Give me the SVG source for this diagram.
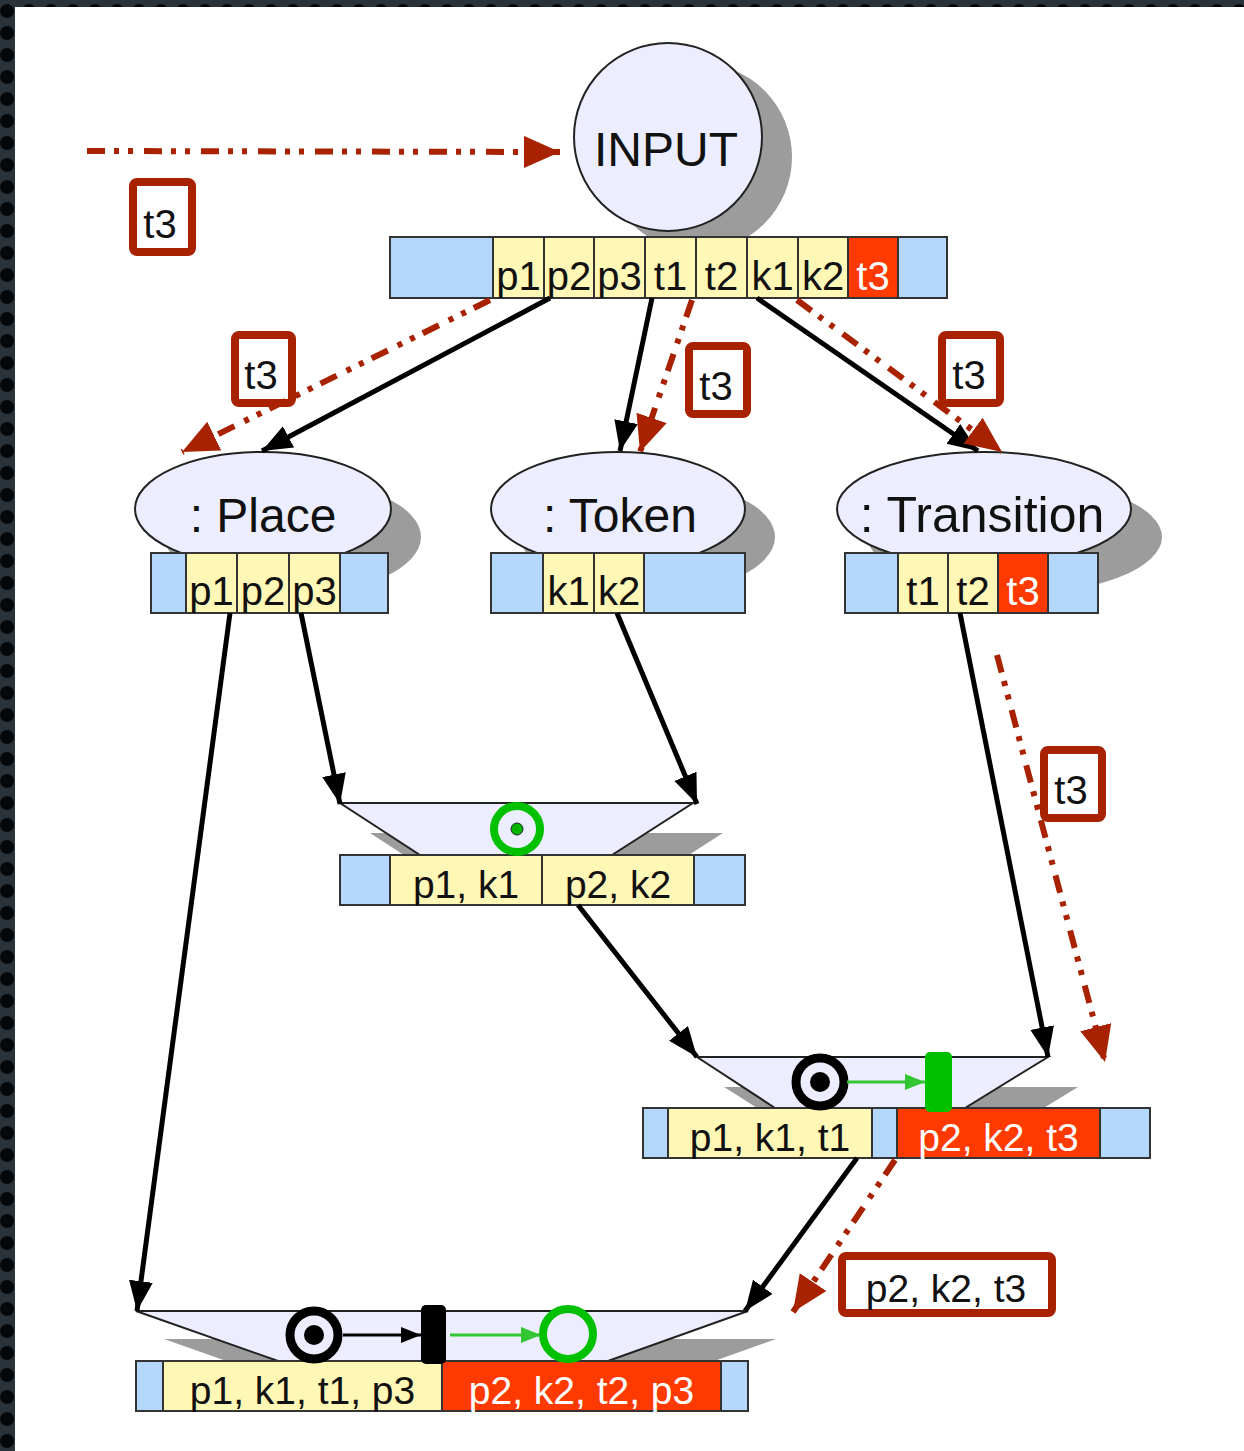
<svg xmlns="http://www.w3.org/2000/svg" width="1244" height="1451" viewBox="0 0 1244 1451">
<style>
text{font-family:"Liberation Sans",Arial,sans-serif;fill:#111;text-anchor:middle}
.big{font-size:48px}
.cell{font-size:40px}
.wt{fill:#fff}
.blue{fill:#b3d8fb;stroke:#333;stroke-width:2}
.yel{fill:#fff7b5;stroke:#333;stroke-width:2}
.red{fill:#ff3a00;stroke:#333;stroke-width:2}
.ell{fill:#eceeff;stroke:#222;stroke-width:2}
.shadow{fill:#9c9c9c}
.trap{fill:#eceeff;stroke:#222;stroke-width:2}
.lbl{fill:#fff;stroke:#a82200;stroke-width:8}
.blk{fill:none;stroke:#000;stroke-width:5;marker-end:url(#ah)}
.rd{fill:none;stroke:#a82200;stroke-width:6;stroke-dasharray:18 9 5 9 5 11;marker-end:url(#rh)}
</style>
<defs>
<marker id="ah" markerUnits="userSpaceOnUse" markerWidth="32" markerHeight="26" refX="30" refY="12" orient="auto"><path d="M0,0 L30,12 L0,24 z" fill="#000"/></marker>
<marker id="rh" markerUnits="userSpaceOnUse" markerWidth="38" markerHeight="34" refX="36" refY="16" orient="auto"><path d="M0,0 L36,16 L0,32 z" fill="#a82200"/></marker>
<marker id="sg" markerUnits="userSpaceOnUse" markerWidth="22" markerHeight="18" refX="20" refY="8" orient="auto"><path d="M0,0 L20,8 L0,16 z" fill="#33c633"/></marker>
<marker id="sb" markerUnits="userSpaceOnUse" markerWidth="22" markerHeight="18" refX="20" refY="8" orient="auto"><path d="M0,0 L20,8 L0,16 z" fill="#000"/></marker>
<pattern id="dots" width="22" height="22" patternUnits="userSpaceOnUse"><rect width="22" height="22" fill="#2a3339"/><circle cx="7" cy="11" r="7" fill="#05080a"/></pattern>
</defs>
<rect width="1244" height="1451" fill="#fff"/>
<rect x="0" y="0" width="15" height="1451" fill="url(#dots)"/>
<rect x="0" y="0" width="1244" height="7" fill="url(#dots)"/>

<g id="input">
<circle class="shadow" cx="698" cy="157" r="94"/>
<circle class="ell" cx="668" cy="137" r="94"/>
<text class="big" x="666" y="166">INPUT</text>
</g>
<g id="input-bar">
<rect class="blue" x="390" y="237" width="103" height="61"/>
<rect class="yel" x="493" y="237" width="51" height="61"/>
<rect class="yel" x="544" y="237" width="50" height="61"/>
<rect class="yel" x="594" y="237" width="51" height="61"/>
<rect class="yel" x="645" y="237" width="51" height="61"/>
<rect class="yel" x="696" y="237" width="51" height="61"/>
<rect class="yel" x="747" y="237" width="51" height="61"/>
<rect class="yel" x="798" y="237" width="50" height="61"/>
<rect class="red" x="848" y="237" width="50" height="61"/>
<rect class="blue" x="898" y="237" width="49" height="61"/>
<text class="cell" x="518.5" y="290">p1</text>
<text class="cell" x="569" y="290">p2</text>
<text class="cell" x="619.5" y="290">p3</text>
<text class="cell" x="670.5" y="290">t1</text>
<text class="cell" x="721.5" y="290">t2</text>
<text class="cell" x="772.5" y="290">k1</text>
<text class="cell" x="823" y="290">k2</text>
<text class="cell wt" x="873" y="290">t3</text>
</g>

<g id="place">
<ellipse class="shadow" cx="293" cy="537" rx="128" ry="57"/>
<ellipse class="ell" cx="263" cy="509" rx="128" ry="57"/>
<text class="big" x="263" y="532">: Place</text>
<rect class="blue" x="151" y="553" width="35" height="60"/>
<rect class="yel" x="186" y="553" width="51" height="60"/>
<rect class="yel" x="237" y="553" width="52" height="60"/>
<rect class="yel" x="289" y="553" width="51" height="60"/>
<rect class="blue" x="340" y="553" width="48" height="60"/>
<text class="cell" x="211.5" y="605">p1</text>
<text class="cell" x="263" y="605">p2</text>
<text class="cell" x="314.5" y="605">p3</text>
</g>

<g id="token">
<ellipse class="shadow" cx="648" cy="537" rx="127" ry="57"/>
<ellipse class="ell" cx="618" cy="509" rx="127" ry="57"/>
<text class="big" x="620" y="532">: Token</text>
<rect class="blue" x="491" y="553" width="52" height="60"/>
<rect class="yel" x="543" y="553" width="51" height="60"/>
<rect class="yel" x="594" y="553" width="50" height="60"/>
<rect class="blue" x="644" y="553" width="101" height="60"/>
<text class="cell" x="568.5" y="605">k1</text>
<text class="cell" x="619" y="605">k2</text>
</g>

<g id="transition">
<ellipse class="shadow" cx="1015" cy="537" rx="147" ry="57"/>
<ellipse class="ell" cx="984" cy="509" rx="147" ry="57"/>
<text class="big" x="982" y="532" style="font-size:50px">: Transition</text>
<rect class="blue" x="845" y="553" width="53" height="60"/>
<rect class="yel" x="898" y="553" width="50" height="60"/>
<rect class="yel" x="948" y="553" width="50" height="60"/>
<rect class="red" x="998" y="553" width="50" height="60"/>
<rect class="blue" x="1048" y="553" width="50" height="60"/>
<text class="cell" x="923" y="605">t1</text>
<text class="cell" x="973" y="605">t2</text>
<text class="cell wt" x="1023" y="605">t3</text>
</g>

<g id="join1">
<polygon class="shadow" points="370,833 723,833 642,885 450,885"/>
<polygon class="trap" points="340,803 693,803 612,855 420,855"/>
<rect class="blue" x="340" y="855" width="50" height="50"/>
<rect class="yel" x="390" y="855" width="152" height="50"/>
<rect class="yel" x="542" y="855" width="152" height="50"/>
<rect class="blue" x="694" y="855" width="51" height="50"/>
<text class="cell" x="466" y="898" style="font-size:39px">p1, k1</text>
<text class="cell" x="618" y="898" style="font-size:39px">p2, k2</text>
<circle cx="517" cy="829" r="23" fill="#eceeff" stroke="#00c000" stroke-width="8"/>
<circle cx="517" cy="829" r="6" fill="#00b400" stroke="#222" stroke-width="1"/>
</g>

<g id="join2">
<polygon class="shadow" points="724,1087 1078,1087 995,1138 805,1138"/>
<polygon class="trap" points="697,1057 1048,1057 965,1108 775,1108"/>
<rect class="blue" x="643" y="1108" width="25" height="50"/>
<rect class="yel" x="668" y="1108" width="204" height="50"/>
<rect class="blue" x="872" y="1108" width="25" height="50"/>
<rect class="red" x="897" y="1108" width="203" height="50"/>
<rect class="blue" x="1100" y="1108" width="50" height="50"/>
<text class="cell" x="770" y="1151" style="font-size:39px">p1, k1, t1</text>
<text class="cell wt" x="998.5" y="1151" style="font-size:39px">p2, k2, t3</text>
<circle cx="820" cy="1082" r="24" fill="#eceeff" stroke="#000" stroke-width="9"/>
<circle cx="820" cy="1082" r="10" fill="#000"/>
<line x1="847" y1="1082" x2="925" y2="1082" stroke="#33c633" stroke-width="3" marker-end="url(#sg)"/>
<rect x="925" y="1052" width="27" height="60" rx="5" fill="#00c000"/>
</g>

<g id="join3">
<polygon class="shadow" points="164,1339 776,1339 636,1389 306,1389"/>
<polygon class="trap" points="136,1311 748,1311 608,1361 278,1361"/>
<rect class="blue" x="136" y="1361" width="27" height="50"/>
<rect class="yel" x="163" y="1361" width="279" height="50"/>
<rect class="red" x="442" y="1361" width="279" height="50"/>
<rect class="blue" x="721" y="1361" width="27" height="50"/>
<text class="cell" x="302.5" y="1404" style="font-size:39px">p1, k1, t1, p3</text>
<text class="cell wt" x="581.5" y="1404" style="font-size:39px">p2, k2, t2, p3</text>
<circle cx="314" cy="1335" r="24" fill="#eceeff" stroke="#000" stroke-width="9"/>
<circle cx="314" cy="1335" r="10" fill="#000"/>
<line x1="343" y1="1335" x2="421" y2="1335" stroke="#000" stroke-width="3" marker-end="url(#sb)"/>
<rect x="421" y="1305" width="25" height="59" rx="5" fill="#000"/>
<line x1="450" y1="1335" x2="541" y2="1335" stroke="#33c633" stroke-width="3" marker-end="url(#sg)"/>
<circle cx="568" cy="1334" r="25" fill="#eceeff" stroke="#00c000" stroke-width="8"/>
</g>

<g id="labels">
<rect class="lbl" x="133" y="182" width="59" height="70" rx="4"/>
<text class="cell" x="160" y="238">t3</text>
<rect class="lbl" x="235" y="335" width="57" height="68" rx="4"/>
<text class="cell" x="261" y="389">t3</text>
<rect class="lbl" x="689" y="346" width="58" height="68" rx="4"/>
<text class="cell" x="716" y="400">t3</text>
<rect class="lbl" x="942" y="335" width="58" height="68" rx="4"/>
<text class="cell" x="969" y="389">t3</text>
<rect class="lbl" x="1044" y="750" width="58" height="68" rx="4"/>
<text class="cell" x="1071" y="804">t3</text>
<rect class="lbl" x="842" y="1256" width="210" height="57" rx="4"/>
<text class="cell" x="946" y="1302" style="font-size:39px">p2, k2, t3</text>
</g>

<g id="connectors">
<path class="blk" d="M550,298 L262,451"/>
<path class="blk" d="M652,298 L620,451"/>
<path class="blk" d="M757,298 L978,451"/>
<path class="blk" d="M230,613 L137,1311"/>
<path class="blk" d="M301,613 L340,804"/>
<path class="blk" d="M617,613 L697,804"/>
<path class="blk" d="M578,905 L697,1057"/>
<path class="blk" d="M960,613 L1048,1057"/>
<path class="blk" d="M857,1158 L745,1311"/>
<path class="rd" d="M87,151 L560,152"/>
<path class="rd" d="M490,300 L182,452"/>
<path class="rd" d="M692,300 L640,452"/>
<path class="rd" d="M797,300 L1002,452"/>
<path class="rd" d="M997,655 L1105,1062"/>
<path class="rd" d="M895,1160 L793,1312"/>
</g>
</svg>
